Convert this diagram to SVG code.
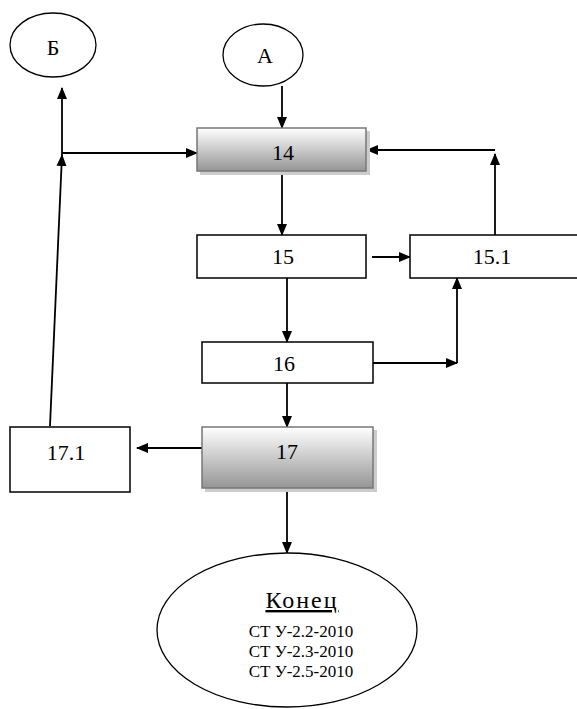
<svg xmlns="http://www.w3.org/2000/svg" width="577" height="709" viewBox="0 0 577 709">
<style>
.box{fill:#fff;stroke:#000;stroke-width:1.5}
.gbox{fill:url(#g);stroke:#777;stroke-width:1.5}
.sh{fill:#ccc}
.ell{fill:#fff;stroke:#000;stroke-width:1.3}
.t{font-family:"Liberation Serif","Times New Roman",serif;font-size:22px;text-anchor:middle;fill:#000}
.s{font-family:"Liberation Serif","Times New Roman",serif;font-size:17px;text-anchor:middle;fill:#000}
.c{fill:none;stroke:#000;stroke-width:1.8}
</style>
<defs>
<linearGradient id="g" x1="0" y1="0" x2="0" y2="1">
<stop offset="0" stop-color="#ffffff"/>
<stop offset="1" stop-color="#959595"/>
</linearGradient>
<marker id="a" markerWidth="12" markerHeight="12" refX="11" refY="6" orient="auto" markerUnits="userSpaceOnUse">
<path d="M0,1 L12,6 L0,11 Z" fill="#000"/>
</marker>
</defs>
<rect width="577" height="709" fill="#fff"/>
<g id="connectors">
<line class="c" x1="282" y1="86" x2="282" y2="128" marker-end="url(#a)"/>
<line class="c" x1="50" y1="426" x2="62" y2="155" marker-end="url(#a)"/>
<line class="c" x1="62" y1="155" x2="62" y2="88" marker-end="url(#a)"/>
<line class="c" x1="62" y1="153" x2="197" y2="153" marker-end="url(#a)"/>
<line class="c" x1="282" y1="171" x2="282" y2="235" marker-end="url(#a)"/>
<line class="c" x1="372" y1="257" x2="410" y2="257" marker-end="url(#a)"/>
<line class="c" x1="495" y1="235" x2="495" y2="154" marker-end="url(#a)"/>
<line class="c" x1="495" y1="150" x2="367" y2="150" marker-end="url(#a)"/>
<line class="c" x1="287" y1="278" x2="287" y2="342" marker-end="url(#a)"/>
<line class="c" x1="373" y1="363" x2="457" y2="363" marker-end="url(#a)"/>
<line class="c" x1="457" y1="363" x2="457" y2="278" marker-end="url(#a)"/>
<line class="c" x1="287" y1="383" x2="287" y2="427" marker-end="url(#a)"/>
<line class="c" x1="202" y1="448" x2="137" y2="448" marker-end="url(#a)"/>
<line class="c" x1="287" y1="488" x2="287" y2="553" marker-end="url(#a)"/>
</g>
<g id="nodeB">
<ellipse class="ell" cx="53" cy="45" rx="43" ry="32"/>
<text class="t" x="53" y="55">Б</text>
</g>
<g id="nodeA">
<ellipse class="ell" cx="263" cy="55" rx="40" ry="31"/>
<text class="t" x="265" y="63">А</text>
</g>
<g id="node14">
<rect class="sh" x="200" y="131" width="170" height="44"/>
<rect class="gbox" x="197" y="128" width="169" height="43"/>
<text class="t" x="283" y="160">14</text>
</g>
<g id="node15">
<rect class="box" x="197" y="235" width="169" height="43"/>
<text class="t" x="283" y="264">15</text>
</g>
<g id="node15_1">
<rect class="box" x="410" y="235" width="175" height="43"/>
<text class="t" x="492" y="264">15.1</text>
</g>
<g id="node16">
<rect class="box" x="202" y="342" width="171" height="41"/>
<text class="t" x="284" y="371">16</text>
</g>
<g id="node17">
<rect class="sh" x="205" y="430" width="172" height="62"/>
<rect class="gbox" x="202" y="427" width="171" height="61"/>
<text class="t" x="287" y="459">17</text>
</g>
<g id="node17_1">
<rect class="box" x="10" y="427" width="120" height="65"/>
<text class="t" x="66" y="460">17.1</text>
</g>
<g id="nodeEnd">
<ellipse class="ell" cx="287" cy="630" rx="130" ry="77"/>
<text class="t" x="302" y="608" style="font-size:24px;letter-spacing:2px;text-decoration:underline">Конец</text>
<text class="s" x="301" y="637">СТ У-2.2-2010</text>
<text class="s" x="301" y="657">СТ У-2.3-2010</text>
<text class="s" x="301" y="677">СТ У-2.5-2010</text>
</g>
</svg>
